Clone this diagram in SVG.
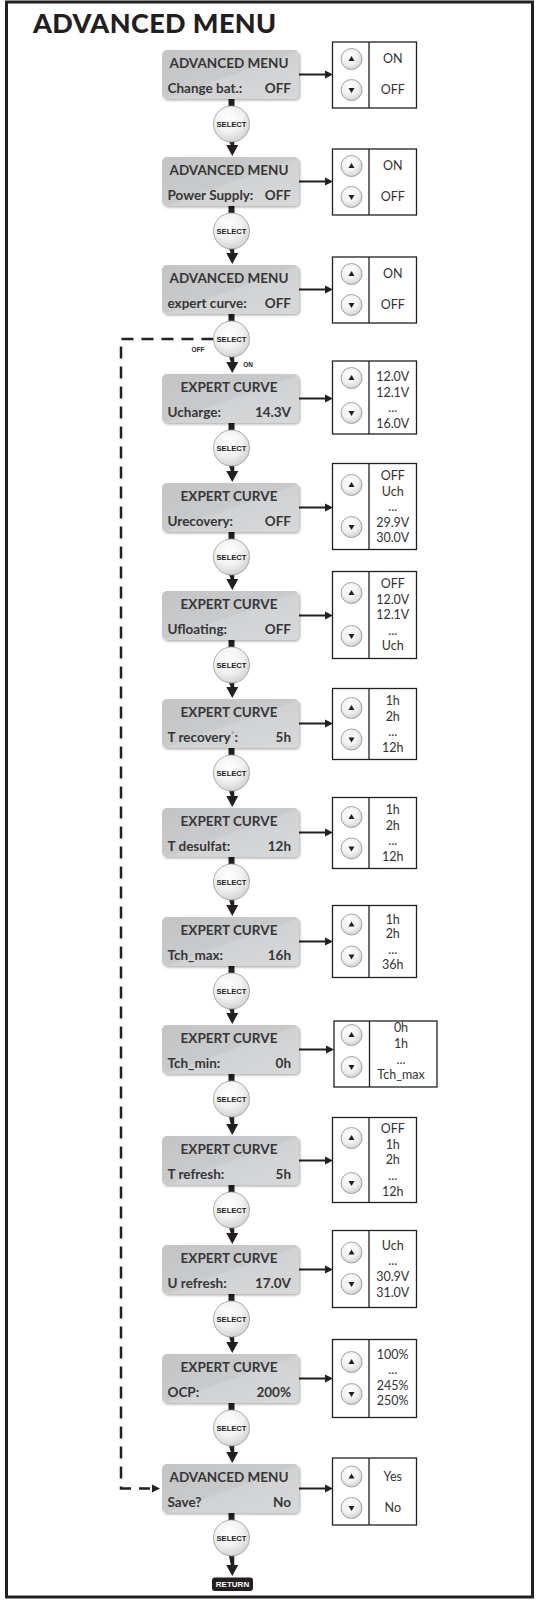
<svg xmlns="http://www.w3.org/2000/svg" width="538" height="1600" viewBox="0 0 538 1600">
<style>
.frame{fill:#fff;stroke:#231f20;stroke-width:3}
.title{font-family:Lato,"Liberation Sans",sans-serif;font-weight:900;font-size:27px;letter-spacing:0.4px;fill:#231f20}
.box{fill:url(#lcd)}
.nt{font-family:Lato,"Liberation Sans",sans-serif;font-weight:700;font-size:13.5px;fill:#363636}
.ntc{text-anchor:middle}
.nv{text-anchor:end}
.pn{fill:#fff;stroke:#231f20;stroke-width:1.3}
.dv{stroke:#231f20;stroke-width:1.3}
.v{font-family:Lato,"Liberation Sans",sans-serif;font-size:12.5px;fill:#333;text-anchor:middle}
.btn{fill:url(#bg);stroke:#8c8c8c;stroke-width:0.8}
.tri{fill:#231f20}
.sel{fill:url(#bg);stroke:#9a9a9a;stroke-width:0.8}
.st{font-family:"Liberation Sans",sans-serif;font-weight:700;font-size:7.6px;fill:#231f20;text-anchor:middle}
.blk{fill:#231f20}
.ln{stroke:#231f20;stroke-width:2;fill:none}
.dash{stroke:#231f20;stroke-width:2.5;fill:none;stroke-dasharray:12 8}
.sm{font-family:"Liberation Sans",sans-serif;font-weight:700;font-size:6.5px;fill:#231f20;text-anchor:middle}
.ret{font-family:"Liberation Sans",sans-serif;font-weight:700;font-size:8px;fill:#fff;text-anchor:middle}
</style>
<defs>
<linearGradient id="lcd" x1="0" y1="0" x2="1" y2="1">
<stop offset="0" stop-color="#c3c4c6"/>
<stop offset="0.5" stop-color="#c9cacc"/>
<stop offset="0.52" stop-color="#d1d2d4"/>
<stop offset="1" stop-color="#d7d8da"/>
</linearGradient>
<radialGradient id="bg" cx="0.42" cy="0.35" r="0.7">
<stop offset="0" stop-color="#ffffff"/>
<stop offset="0.55" stop-color="#f1f1f1"/>
<stop offset="1" stop-color="#cdcdcd"/>
</radialGradient>
<filter id="sh" x="-10%" y="-20%" width="130%" height="150%">
<feDropShadow dx="1.2" dy="1.5" stdDeviation="1.2" flood-color="#000" flood-opacity="0.3"/>
</filter>
<g id="up"><circle class="btn" r="10.5"/><polygon class="tri" points="-3,2 3,2 0,-3"/></g>
<g id="dn"><circle class="btn" r="10.5"/><polygon class="tri" points="-3,-2 3,-2 0,3"/></g>
</defs>

<rect class="frame" x="6.5" y="2" width="526" height="1595"/>
<text class="title" x="33" y="33">ADVANCED MENU</text>

<g id="connectors">
<rect class="blk" x="228.5" y="99" width="6" height="7"/>
<rect class="blk" x="228.5" y="206" width="6" height="7"/>
<rect class="blk" x="228.5" y="314" width="6" height="7"/>
<rect class="blk" x="228.5" y="423" width="6" height="7"/>
<rect class="blk" x="228.5" y="532" width="6" height="7"/>
<rect class="blk" x="228.5" y="640" width="6" height="7"/>
<rect class="blk" x="228.5" y="748" width="6" height="7"/>
<rect class="blk" x="228.5" y="857" width="6" height="7"/>
<rect class="blk" x="228.5" y="966" width="6" height="7"/>
<rect class="blk" x="228.5" y="1074" width="6" height="7"/>
<rect class="blk" x="228.5" y="1185" width="6" height="7"/>
<rect class="blk" x="228.5" y="1294" width="6" height="7"/>
<rect class="blk" x="228.5" y="1403" width="6" height="7"/>
<rect class="blk" x="228.5" y="1513" width="6" height="7"/>
<path class="blk" d="M228.75 141h5.5v4h4l-6 11l-6-11h4.5z"/>
<path class="blk" d="M228.75 248h5.5v5h4l-6 11l-6-11h4.5z"/>
<path class="blk" d="M228.75 356h5.5v6h4l-6 11l-6-11h4.5z"/>
<path class="blk" d="M228.75 465h5.5v6h4l-6 11l-6-11h4.5z"/>
<path class="blk" d="M228.75 574h5.5v5h4l-6 11l-6-11h4.5z"/>
<path class="blk" d="M228.75 682h5.5v5h4l-6 11l-6-11h4.5z"/>
<path class="blk" d="M228.75 790h5.5v6h4l-6 11l-6-11h4.5z"/>
<path class="blk" d="M228.75 899h5.5v6h4l-6 11l-6-11h4.5z"/>
<path class="blk" d="M228.75 1008h5.5v5h4l-6 11l-6-11h4.5z"/>
<path class="blk" d="M228.75 1116h5.5v8h4l-6 11l-6-11h4.5z"/>
<path class="blk" d="M228.75 1227h5.5v6h4l-6 11l-6-11h4.5z"/>
<path class="blk" d="M228.75 1336h5.5v6h4l-6 11l-6-11h4.5z"/>
<path class="blk" d="M228.75 1445h5.5v7h4l-6 11l-6-11h4.5z"/>
<path class="blk" d="M228.75 1555h5.5v10h4l-6 11l-6-11h4.5z"/>
<path class="ln" d="M299 74.5H326"/><polygon class="blk" points="325,70.5 333,74.5 325,78.5"/>
<path class="ln" d="M299 181.5H326"/><polygon class="blk" points="325,177.5 333,181.5 325,185.5"/>
<path class="ln" d="M299 289.5H326"/><polygon class="blk" points="325,285.5 333,289.5 325,293.5"/>
<path class="ln" d="M299 398.5H326"/><polygon class="blk" points="325,394.5 333,398.5 325,402.5"/>
<path class="ln" d="M299 507.5H326"/><polygon class="blk" points="325,503.5 333,507.5 325,511.5"/>
<path class="ln" d="M299 615.5H326"/><polygon class="blk" points="325,611.5 333,615.5 325,619.5"/>
<path class="ln" d="M299 723.5H326"/><polygon class="blk" points="325,719.5 333,723.5 325,727.5"/>
<path class="ln" d="M299 832.5H326"/><polygon class="blk" points="325,828.5 333,832.5 325,836.5"/>
<path class="ln" d="M299 941.5H326"/><polygon class="blk" points="325,937.5 333,941.5 325,945.5"/>
<path class="ln" d="M299 1049.5H327"/><polygon class="blk" points="326,1045.5 334,1049.5 326,1053.5"/>
<path class="ln" d="M299 1160.5H326"/><polygon class="blk" points="325,1156.5 333,1160.5 325,1164.5"/>
<path class="ln" d="M299 1269.5H326"/><polygon class="blk" points="325,1265.5 333,1269.5 325,1273.5"/>
<path class="ln" d="M299 1378.5H326"/><polygon class="blk" points="325,1374.5 333,1378.5 325,1382.5"/>
<path class="ln" d="M299 1488.5H326"/><polygon class="blk" points="325,1484.5 333,1488.5 325,1492.5"/>
<path class="dash" d="M213.5 339H121V1488.5H150"/>
<polygon class="blk" points="152,1484.5 160,1488.5 152,1492.5"/>
<text class="sm" x="198" y="351.5">OFF</text>
<text class="sm" x="248" y="366.5">ON</text>
</g>

<g id="n1"><rect class="box" filter="url(#sh)" x="162" y="50" width="137" height="49" rx="5"/>
<text class="nt ntc" x="229" y="67.5">ADVANCED MENU</text><text class="nt" x="167.5" y="92.5">Change bat.:</text><text class="nt nv" x="291" y="92.5">OFF</text></g>
<g id="n2"><rect class="box" filter="url(#sh)" x="162" y="157" width="137" height="49" rx="5"/>
<text class="nt ntc" x="229" y="174.5">ADVANCED MENU</text><text class="nt" x="167.5" y="199.5">Power Supply:</text><text class="nt nv" x="291" y="199.5">OFF</text></g>
<g id="n3"><rect class="box" filter="url(#sh)" x="162" y="265" width="137" height="49" rx="5"/>
<text class="nt ntc" x="229" y="282.5">ADVANCED MENU</text><text class="nt" x="167.5" y="307.5">expert curve:</text><text class="nt nv" x="291" y="307.5">OFF</text></g>
<g id="n4"><rect class="box" filter="url(#sh)" x="162" y="374" width="137" height="49" rx="5"/>
<text class="nt ntc" x="229" y="391.5">EXPERT CURVE</text><text class="nt" x="167.5" y="416.5">Ucharge:</text><text class="nt nv" x="291" y="416.5">14.3V</text></g>
<g id="n5"><rect class="box" filter="url(#sh)" x="162" y="483" width="137" height="49" rx="5"/>
<text class="nt ntc" x="229" y="500.5">EXPERT CURVE</text><text class="nt" x="167.5" y="525.5">Urecovery:</text><text class="nt nv" x="291" y="525.5">OFF</text></g>
<g id="n6"><rect class="box" filter="url(#sh)" x="162" y="591" width="137" height="49" rx="5"/>
<text class="nt ntc" x="229" y="608.5">EXPERT CURVE</text><text class="nt" x="167.5" y="633.5">Ufloating:</text><text class="nt nv" x="291" y="633.5">OFF</text></g>
<g id="n7"><rect class="box" filter="url(#sh)" x="162" y="699" width="137" height="49" rx="5"/>
<text class="nt ntc" x="229" y="716.5">EXPERT CURVE</text><text class="nt" x="167.5" y="741.5">T recovery<tspan fill="#9a9a9a" font-size="9" dy="-4">*</tspan><tspan dy="4">:</tspan></text><text class="nt nv" x="291" y="741.5">5h</text></g>
<g id="n8"><rect class="box" filter="url(#sh)" x="162" y="808" width="137" height="49" rx="5"/>
<text class="nt ntc" x="229" y="825.5">EXPERT CURVE</text><text class="nt" x="167.5" y="850.5">T desulfat:</text><text class="nt nv" x="291" y="850.5">12h</text></g>
<g id="n9"><rect class="box" filter="url(#sh)" x="162" y="917" width="137" height="49" rx="5"/>
<text class="nt ntc" x="229" y="934.5">EXPERT CURVE</text><text class="nt" x="167.5" y="959.5">Tch_max:</text><text class="nt nv" x="291" y="959.5">16h</text></g>
<g id="n10"><rect class="box" filter="url(#sh)" x="162" y="1025" width="137" height="49" rx="5"/>
<text class="nt ntc" x="229" y="1042.5">EXPERT CURVE</text><text class="nt" x="167.5" y="1067.5">Tch_min:</text><text class="nt nv" x="291" y="1067.5">0h</text></g>
<g id="n11"><rect class="box" filter="url(#sh)" x="162" y="1136" width="137" height="49" rx="5"/>
<text class="nt ntc" x="229" y="1153.5">EXPERT CURVE</text><text class="nt" x="167.5" y="1178.5">T refresh:</text><text class="nt nv" x="291" y="1178.5">5h</text></g>
<g id="n12"><rect class="box" filter="url(#sh)" x="162" y="1245" width="137" height="49" rx="5"/>
<text class="nt ntc" x="229" y="1262.5">EXPERT CURVE</text><text class="nt" x="167.5" y="1287.5">U refresh:</text><text class="nt nv" x="291" y="1287.5">17.0V</text></g>
<g id="n13"><rect class="box" filter="url(#sh)" x="162" y="1354" width="137" height="49" rx="5"/>
<text class="nt ntc" x="229" y="1371.5">EXPERT CURVE</text><text class="nt" x="167.5" y="1396.5">OCP:</text><text class="nt nv" x="291" y="1396.5">200%</text></g>
<g id="n14"><rect class="box" filter="url(#sh)" x="162" y="1464" width="137" height="49" rx="5"/>
<text class="nt ntc" x="229" y="1481.5">ADVANCED MENU</text><text class="nt" x="167.5" y="1506.5">Save?</text><text class="nt nv" x="291" y="1506.5">No</text></g>

<g id="s1"><circle class="sel" cx="231.5" cy="124" r="18"/><text class="st" x="231.5" y="126.8">SELECT</text></g>
<g id="s2"><circle class="sel" cx="231.5" cy="231" r="18"/><text class="st" x="231.5" y="233.8">SELECT</text></g>
<g id="s3"><circle class="sel" cx="231.5" cy="339" r="18"/><text class="st" x="231.5" y="341.8">SELECT</text></g>
<g id="s4"><circle class="sel" cx="231.5" cy="448" r="18"/><text class="st" x="231.5" y="450.8">SELECT</text></g>
<g id="s5"><circle class="sel" cx="231.5" cy="557" r="18"/><text class="st" x="231.5" y="559.8">SELECT</text></g>
<g id="s6"><circle class="sel" cx="231.5" cy="665" r="18"/><text class="st" x="231.5" y="667.8">SELECT</text></g>
<g id="s7"><circle class="sel" cx="231.5" cy="773" r="18"/><text class="st" x="231.5" y="775.8">SELECT</text></g>
<g id="s8"><circle class="sel" cx="231.5" cy="882" r="18"/><text class="st" x="231.5" y="884.8">SELECT</text></g>
<g id="s9"><circle class="sel" cx="231.5" cy="991" r="18"/><text class="st" x="231.5" y="993.8">SELECT</text></g>
<g id="s10"><circle class="sel" cx="231.5" cy="1099" r="18"/><text class="st" x="231.5" y="1101.8">SELECT</text></g>
<g id="s11"><circle class="sel" cx="231.5" cy="1210" r="18"/><text class="st" x="231.5" y="1212.8">SELECT</text></g>
<g id="s12"><circle class="sel" cx="231.5" cy="1319" r="18"/><text class="st" x="231.5" y="1321.8">SELECT</text></g>
<g id="s13"><circle class="sel" cx="231.5" cy="1428" r="18"/><text class="st" x="231.5" y="1430.8">SELECT</text></g>
<g id="s14"><circle class="sel" cx="231.5" cy="1538" r="18"/><text class="st" x="231.5" y="1540.8">SELECT</text></g>

<g id="ret"><rect class="blk" x="212" y="1577.5" width="41" height="13.5" rx="3"/><text class="ret" x="232.5" y="1587.3">RETURN</text></g>

<g id="p1"><rect class="pn" x="332.5" y="42" width="84" height="66"/><line class="dv" x1="369" y1="42" x2="369" y2="108"/>
<use href="#up" x="351.5" y="59"/><use href="#dn" x="351.5" y="90"/>
<text class="v" x="392.75" y="63.3">ON</text><text class="v" x="392.75" y="94.3">OFF</text></g>
<g id="p2"><rect class="pn" x="332.5" y="149" width="84" height="66"/><line class="dv" x1="369" y1="149" x2="369" y2="215"/>
<use href="#up" x="351.5" y="166"/><use href="#dn" x="351.5" y="197"/>
<text class="v" x="392.75" y="170.3">ON</text><text class="v" x="392.75" y="201.3">OFF</text></g>
<g id="p3"><rect class="pn" x="332.5" y="257" width="84" height="66"/><line class="dv" x1="369" y1="257" x2="369" y2="323"/>
<use href="#up" x="351.5" y="274"/><use href="#dn" x="351.5" y="305"/>
<text class="v" x="392.75" y="278.3">ON</text><text class="v" x="392.75" y="309.3">OFF</text></g>
<g id="p4"><rect class="pn" x="332.5" y="361" width="84" height="73"/><line class="dv" x1="369" y1="361" x2="369" y2="434"/>
<use href="#up" x="351.5" y="378"/><use href="#dn" x="351.5" y="413"/>
<text class="v" x="392.75" y="381">12.0V</text><text class="v" x="392.75" y="396.5">12.1V</text><text class="v" x="392.75" y="412">...</text><text class="v" x="392.75" y="427.5">16.0V</text></g>
<g id="p5"><rect class="pn" x="332.5" y="463.5" width="84" height="86"/><line class="dv" x1="369" y1="463.5" x2="369" y2="549.5"/>
<use href="#up" x="351.5" y="485"/><use href="#dn" x="351.5" y="527"/>
<text class="v" x="392.75" y="480.3">OFF</text><text class="v" x="392.75" y="495.8">Uch</text><text class="v" x="392.75" y="511.3">...</text><text class="v" x="392.75" y="526.8">29.9V</text><text class="v" x="392.75" y="542.3">30.0V</text></g>
<g id="p6"><rect class="pn" x="332.5" y="571.5" width="84" height="87"/><line class="dv" x1="369" y1="571.5" x2="369" y2="658.5"/>
<use href="#up" x="351.5" y="593"/><use href="#dn" x="351.5" y="636"/>
<text class="v" x="392.75" y="588.3">OFF</text><text class="v" x="392.75" y="603.8">12.0V</text><text class="v" x="392.75" y="619.3">12.1V</text><text class="v" x="392.75" y="634.8">...</text><text class="v" x="392.75" y="650.3">Uch</text></g>
<g id="p7"><rect class="pn" x="332.5" y="688.5" width="84" height="71"/><line class="dv" x1="369" y1="688.5" x2="369" y2="759.5"/>
<use href="#up" x="351.5" y="708"/><use href="#dn" x="351.5" y="739.5"/>
<text class="v" x="392.75" y="705.3">1h</text><text class="v" x="392.75" y="720.8">2h</text><text class="v" x="392.75" y="736.3">...</text><text class="v" x="392.75" y="751.8">12h</text></g>
<g id="p8"><rect class="pn" x="332.5" y="797.5" width="84" height="71"/><line class="dv" x1="369" y1="797.5" x2="369" y2="868.5"/>
<use href="#up" x="351.5" y="817"/><use href="#dn" x="351.5" y="848.5"/>
<text class="v" x="392.75" y="814.3">1h</text><text class="v" x="392.75" y="829.8">2h</text><text class="v" x="392.75" y="845.3">...</text><text class="v" x="392.75" y="860.8">12h</text></g>
<g id="p9"><rect class="pn" x="332.5" y="905.5" width="84" height="72"/><line class="dv" x1="369" y1="905.5" x2="369" y2="977.5"/>
<use href="#up" x="351.5" y="924.5"/><use href="#dn" x="351.5" y="956.5"/>
<text class="v" x="392.75" y="923.8">1h</text><text class="v" x="392.75" y="938.3">2h</text><text class="v" x="392.75" y="953.8">...</text><text class="v" x="392.75" y="969.3">36h</text></g>
<g id="p10"><rect class="pn" x="334" y="1021" width="103" height="66"/><line class="dv" x1="369.5" y1="1021" x2="369.5" y2="1087"/>
<use href="#up" x="351.5" y="1035"/><use href="#dn" x="351.5" y="1067"/>
<text class="v" x="401" y="1032.3">0h</text><text class="v" x="401" y="1048.3">1h</text><text class="v" x="401" y="1063.8">...</text><text class="v" x="401" y="1078.8">Tch_max</text></g>
<g id="p11"><rect class="pn" x="332.5" y="1117.5" width="84" height="85"/><line class="dv" x1="369" y1="1117.5" x2="369" y2="1202.5"/>
<use href="#up" x="351.5" y="1138"/><use href="#dn" x="351.5" y="1183"/>
<text class="v" x="392.75" y="1133.3">OFF</text><text class="v" x="392.75" y="1148.8">1h</text><text class="v" x="392.75" y="1164.3">2h</text><text class="v" x="392.75" y="1179.8">...</text><text class="v" x="392.75" y="1195.8">12h</text></g>
<g id="p12"><rect class="pn" x="332.5" y="1230.5" width="84" height="77"/><line class="dv" x1="369" y1="1230.5" x2="369" y2="1307.5"/>
<use href="#up" x="351.5" y="1252.5"/><use href="#dn" x="351.5" y="1284"/>
<text class="v" x="392.75" y="1249.8">Uch</text><text class="v" x="392.75" y="1265.3">...</text><text class="v" x="392.75" y="1281.3">30.9V</text><text class="v" x="392.75" y="1296.8">31.0V</text></g>
<g id="p13"><rect class="pn" x="332.5" y="1339.5" width="84" height="78"/><line class="dv" x1="369" y1="1339.5" x2="369" y2="1417.5"/>
<use href="#up" x="351.5" y="1362"/><use href="#dn" x="351.5" y="1394"/>
<text class="v" x="392.75" y="1358.8">100%</text><text class="v" x="392.75" y="1374.3">...</text><text class="v" x="392.75" y="1390.3">245%</text><text class="v" x="392.75" y="1405.3">250%</text></g>
<g id="p14"><rect class="pn" x="332.5" y="1458" width="84" height="67"/><line class="dv" x1="369" y1="1458" x2="369" y2="1525"/>
<use href="#up" x="351.5" y="1476.5"/><use href="#dn" x="351.5" y="1508"/>
<text class="v" x="392.75" y="1480.5">Yes</text><text class="v" x="392.75" y="1512.3">No</text></g>
</svg>
